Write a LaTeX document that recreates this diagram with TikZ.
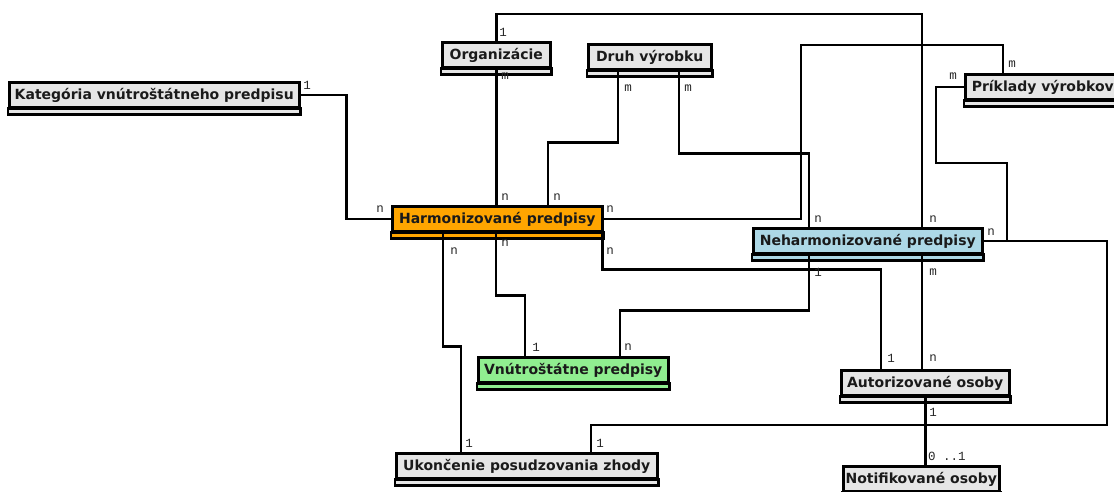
\documentclass[tikz,border=0pt]{standalone}
\usepackage{fontspec}
\setmainfont{DejaVu Sans}
\newfontfamily\entfont{DejaVu Sans}
\newfontfamily\lblfont{Liberation Mono}
\usetikzlibrary{calc}
\definecolor{entgray}{HTML}{E6E6E6}
\definecolor{harmor}{HTML}{FFA500}
\definecolor{neblue}{HTML}{ADD8E6}
\definecolor{vngreen}{HTML}{90EE90}
\definecolor{txt}{HTML}{1A1A1A}
\begin{document}
\begin{tikzpicture}[x=1pt,y=-1pt,
 ent/.style={draw=black, line width=2.5pt, fill=entgray, minimum height=25pt,
   inner xsep=0pt, inner ysep=0pt, anchor=north west,
   font=\entfont\bfseries\fontsize{14}{16}\selectfont, text=txt,
   text height=10.5pt, text depth=1.5pt},
 conn/.style={line width=2.5pt, draw=black},
 lbl/.style={font=\lblfont\fontsize{12.5}{12.5}\selectfont, inner sep=0pt, text=black!85},
 strip/.style={draw=black, line width=2.5pt}]

\useasboundingbox (0,0) rectangle (1114,491);

% entities
\node[ent, minimum width=290pt] (kat) at (8,81) {Kategória vnútroštátneho predpisu};
\node[ent, minimum width=108pt] (org) at (441,41) {Organizácie};
\node[ent, minimum width=123pt] (druh) at (587,43) {Druh výrobku};
\node[ent, minimum width=155pt] (prik) at (964,73) {Príklady výrobkov};
\node[ent, fill=harmor, minimum width=210pt] (harm) at (391,205) {Harmonizované predpisy};
\node[ent, fill=neblue, minimum width=229pt] (neharm) at (752,227) {Neharmonizované predpisy};
\node[ent, fill=vngreen, minimum width=190pt] (vnut) at (477,356) {Vnútroštátne predpisy};
\node[ent, minimum width=168pt] (autor) at (840,369) {Autorizované osoby};
\node[ent, minimum width=261pt] (ukon) at (395,452) {Ukončenie posudzovania zhody};
\node[ent, minimum width=156pt] (notif) at (842,465) {Notifikované osoby};

\foreach \n/\c in {kat/entgray, org/entgray, druh/entgray, prik/entgray, harm/harmor,
  neharm/neblue, vnut/vngreen, autor/entgray, ukon/entgray, notif/entgray}
  \draw[strip, fill=\c] (\n.south west) rectangle ([yshift=-6pt]\n.south east);

% connectors
\coordinate (b6) at (801,45);
\coordinate (b7) at (1007,163);
\coordinate (b14) at (1107,425);
\coordinate (n12) at ([xshift=170pt]neharm.south west);

\draw[conn] (kat.east) -- ++(46,0) |- (harm.west);
\draw[conn] (org.south) -- (org.south |- harm.north);
\draw[conn] (org.north) -- ++(0,-27) -| ([xshift=170pt]neharm.north west);
\draw[conn] ([xshift=31pt]druh.south west) -- ++(0,72) -| ([xshift=157pt]harm.north west);
\draw[conn] ([xshift=92pt]druh.south west) -- ++(0,83) -| ([xshift=57pt]neharm.north west);
\draw[conn] (harm.east) -| (b6) -| ([xshift=39pt]prik.north west);
\draw[conn] (prik.west) -- ++(-28,0) |- (b7) |- (neharm.east);
\draw[conn] ([xshift=105pt]harm.south west) -- ++(0,63) -| ([xshift=48pt]vnut.north west);
\draw[conn] ([xshift=52pt]harm.south west) -- ++(0,114) -| ([xshift=66pt]ukon.north west);
\draw[conn] ([xshift=-1pt]harm.south east) -- ++(0,37) -| ([xshift=41pt]autor.north west);
\draw[conn] ([xshift=57pt]neharm.south west) -- ++(0,56) -| ([xshift=143pt]vnut.north west);
\draw[conn] (n12) -- (n12 |- autor.north);
\draw[conn] (autor.south) -- (autor.south |- notif.north);
\draw[conn] (neharm.east) -| (b14) -| ([xshift=196pt]ukon.north west);

% cardinality labels
\node[lbl] (l1) at (307,85) {1};
\node[lbl] (l2) at (380,209) {n};
\node[lbl] (l3) at (503,32) {1};
\node[lbl] (l4) at (505,76) {m};
\node[lbl] (l5) at (628,88) {m};
\node[lbl] (l6) at (688,88) {m};
\node[lbl] (l7) at (505,197) {n};
\node[lbl] (l8) at (557,197) {n};
\node[lbl] (l9) at (610,209) {n};
\node[lbl] (l10) at (454,251) {n};
\node[lbl] (l11) at (505,243) {n};
\node[lbl] (l12) at (610,251) {n};
\node[lbl] (l13) at (818,219) {n};
\node[lbl] (l14) at (933,219) {n};
\node[lbl] (l15) at (991,232) {n};
\node[lbl] (l16) at (818,272) {1};
\node[lbl] (l17) at (933,272) {m};
\node[lbl] (l18) at (1012,64) {m};
\node[lbl] (l19) at (953,76) {m};
\node[lbl] (l20) at (536,347) {1};
\node[lbl] (l21) at (628,347) {n};
\node[lbl] (l22) at (891,358) {1};
\node[lbl] (l23) at (933,358) {n};
\node[lbl] (l24) at (933,412) {1};
\node[lbl, anchor=west] (l25) at (928,456) {0 ..1};
\node[lbl] (l26) at (469,443) {1};
\node[lbl] (l27) at (600,443) {1};
\end{tikzpicture}
\end{document}
